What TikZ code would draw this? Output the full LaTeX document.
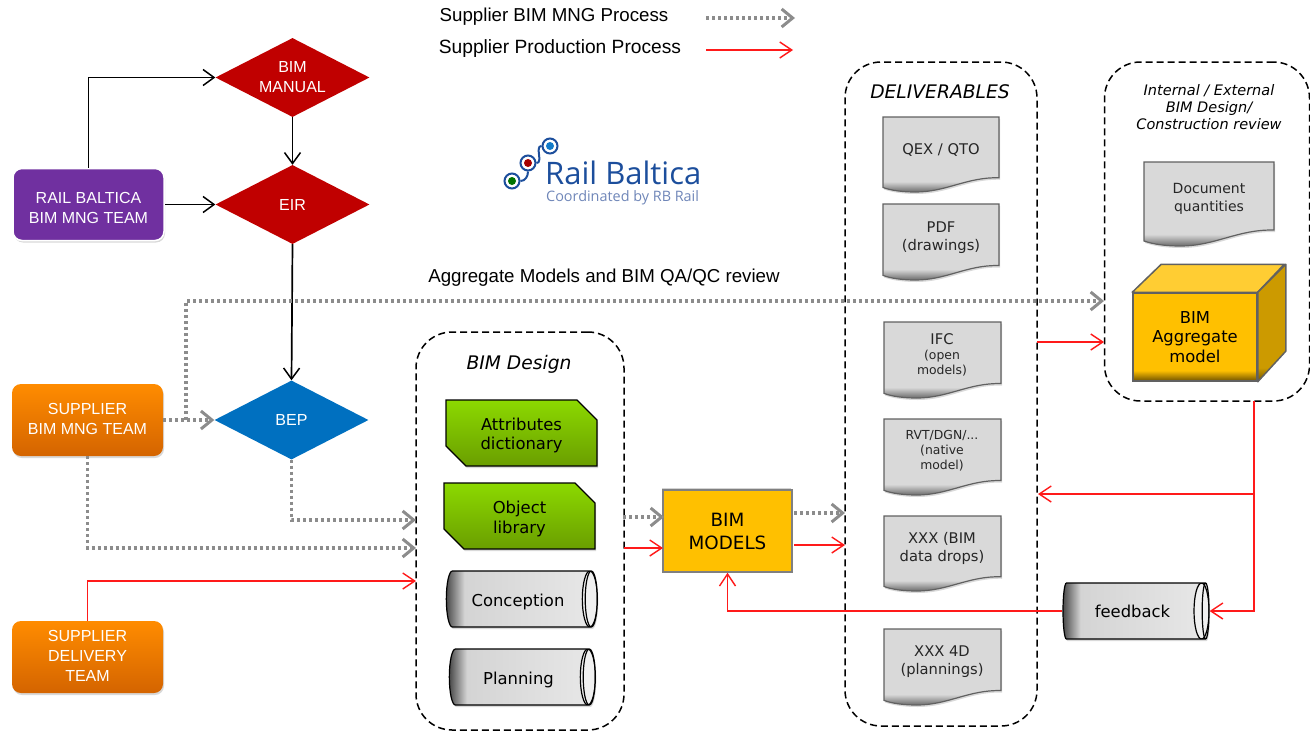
\documentclass[tikz,border=0pt]{standalone}
\usepackage{fontspec}
\setmainfont{Liberation Sans}
\newfontfamily\bodyfont{DejaVu Sans}
\newfontfamily\logofont{Open Sans}
\usetikzlibrary{arrows.meta}
\usetikzlibrary{shapes.geometric, shapes.misc}
\usetikzlibrary{shadows}

\definecolor{rbpurple}{HTML}{7030A0}
\definecolor{rbred}{HTML}{C00000}
\definecolor{rbblue}{HTML}{0070C0}
\definecolor{orangetop}{HTML}{FF8C00}
\definecolor{orangebot}{HTML}{D46400}
\definecolor{greentop}{HTML}{8CD900}
\definecolor{greenbot}{HTML}{6A9E00}
\definecolor{boxyellow}{HTML}{FFC000}
\definecolor{boxtop}{HTML}{FFCD33}
\definecolor{boxside}{HTML}{CC9A00}
\definecolor{boxdark}{HTML}{6E5200}
\definecolor{docgray}{HTML}{D9D9D9}
\definecolor{docdark}{HTML}{6A6A6A}
\definecolor{cyldark}{HTML}{4A4A4A}
\definecolor{cylmid}{HTML}{D4D4D4}
\definecolor{cyllight}{HTML}{E8E8E8}
\definecolor{logonavy}{HTML}{1C4E9C}
\definecolor{logosoft}{HTML}{6F86B8}
\definecolor{dotgray}{HTML}{8C8C8C}
\definecolor{linered}{HTML}{FF1A1A}

\pgfdeclareverticalshading{docfade}{100bp}{color(0bp)=(docdark); color(25bp)=(docdark); color(32bp)=(docgray); color(100bp)=(docgray)}
\pgfdeclareverticalshading{frontfade}{100bp}{color(0bp)=(boxdark); color(25bp)=(boxdark); color(31bp)=(boxyellow); color(100bp)=(boxyellow)}
\pgfdeclareverticalshading{sidefade}{100bp}{color(0bp)=(boxdark); color(25bp)=(boxdark); color(31bp)=(boxside); color(100bp)=(boxside)}
\pgfdeclarehorizontalshading{cylfade}{100bp}{color(0bp)=(cyldark); color(25bp)=(cyldark); color(31bp)=(cylmid); color(75bp)=(cyllight); color(100bp)=(cyllight)}

\tikzset{
  softshadow/.style={drop shadow={opacity=0.3, shadow xshift=1pt, shadow yshift=-2pt}},
  whitelabel/.style={text=white, align=center, font=\fontsize{16}{20}\selectfont},
  teambox/.style={rounded corners=9pt, minimum width=151pt, minimum height=72pt, inner sep=0pt, softshadow, whitelabel},
  orangebox/.style={teambox, top color=orangetop, bottom color=orangebot},
  gate/.style={diamond, aspect=1.94, minimum width=154pt, minimum height=79pt, inner sep=0pt, whitelabel},
  groupbox/.style={draw, line width=1.5pt, dash pattern=on 7pt off 4pt, rounded corners=36pt, inner sep=0pt},
  grouptitle/.style={font=\bodyfont\itshape\fontsize{18.7}{22}\selectfont},
  greenbox/.style={chamfered rectangle, chamfered rectangle corners={north east, south west}, chamfered rectangle sep=10pt,
    draw=black, line width=1.4pt, top color=greentop, bottom color=greenbot, minimum width=151pt, minimum height=66pt,
    inner sep=0pt, softshadow, align=center, font=\bodyfont\fontsize{16.4}{19.5}\selectfont},
  cylbox/.style={cylinder, shape aspect=0.54, shape border rotate=0, minimum height=#1, minimum width=56pt, inner sep=0pt,
    draw=black, line width=1.2pt, shade, shading=cylfade, softshadow, font=\bodyfont\fontsize{16.4}{20}\selectfont,
    path picture={\draw [black, line width=1.2pt, fill=white!94!black] ([xshift=-7.5pt]path picture bounding box.east) ellipse (7.5pt and 28pt);}},
  docoutline/.style={insert path={(0,0) -- (1,0) -- (1,.81) .. controls (.72,.80) and (.55,1) .. (.28,1) .. controls (.17,1) and (.07,.98) .. (0,.94) -- cycle}},
  docbody/.style={draw=black!62, line width=1.2pt, shade, shading=docfade, softshadow},
  doclabel/.style={align=center, text=black!85, inner sep=0pt, font=\bodyfont\fontsize{14.7}{18}\selectfont},
  smalllabel/.style={doclabel, font=\bodyfont\fontsize{12.4}{15}\selectfont},
  captionlabel/.style={font=\fontsize{18.7}{22}\selectfont, inner sep=0pt},
  logodot/.style={circle, draw=logonavy, line width=2pt, fill=white, minimum size=15pt, inner sep=0pt,
    path picture={\fill [#1] (path picture bounding box.center) circle (4pt);}},
  blackflow/.style={line width=1.7pt, -{Straight Barb[length=11pt, width=16pt, line width=1.5pt]}},
  redflow/.style={linered, line width=1.5pt, -{Straight Barb[length=12pt, width=16pt, line width=1.4pt]}},
  dotflow/.style={dotgray, line width=3.2pt, dash pattern=on 3pt off 3pt, -{Straight Barb[length=11pt, width=18pt, line width=3pt]}},
}

\begin{document}
\begin{tikzpicture}[x=1pt, y=-1pt]
\useasboundingbox (0,0) rectangle (1310,734); % same size as the reference

% legend
\node (legendmng) at (554,17) [captionlabel] {Supplier BIM MNG Process};
\node (legendprod) at (560,49) [captionlabel, font=\fontsize{19.2}{22}\selectfont] {Supplier Production Process};
\coordinate (mngfrom) at (706,18);
\coordinate (mngto) at (795,18);
\coordinate (prodfrom) at (706,50);
\coordinate (prodto) at (793,50);
\draw [dotflow] (mngfrom) -- (mngto);
\draw [redflow] (prodfrom) -- (prodto);

% logo
\node (dotgreen) at (512,181) [logodot=green!45!black] {};
\node (dotred) at (528,163) [logodot=red!65!black] {};
\node (dotblue) at (550,146) [logodot=cyan!60!blue] {};
\draw [logonavy, line width=2pt] (dotgreen.east) to[out=0, in=-90] (dotred.south);
\draw [logonavy, line width=2pt] (dotred.east) to[out=0, in=180] (dotblue.west);
\node (logoname) at (545,173) [anchor=west, inner sep=0pt, text=logonavy, font=\logofont\fontsize{31}{33}\selectfont] {Rail Baltica};
\node (logosub) at (546,198) [anchor=west, inner sep=0pt, text=logosoft, font=\logofont\fontsize{14.4}{16}\selectfont] {Coordinated by RB Rail};

% teams and gates
\node (railteam) at (88.5,204.5) [teambox, fill=rbpurple, draw=white, line width=1.5pt] {\rule{0pt}{18pt}RAIL BALTICA\\BIM MNG TEAM};
\node (mngteam) at (87.5,420) [orangebox] {SUPPLIER\\BIM MNG TEAM\rule[-2pt]{0pt}{2pt}};
\node (delivteam) at (87.5,657) [orangebox] {SUPPLIER\\DELIVERY\\TEAM\rule[-2pt]{0pt}{2pt}};
\node (manual) at (292.5,77.5) [gate, fill=rbred] {BIM\\MANUAL};
\node (eir) at (292.5,204.5) [gate, fill=rbred] {EIR};
\node (bep) at (291.5,420) [gate, fill=rbblue] {BEP};

% dashed groups
\node (design) at (520,531) [groupbox, minimum width=208pt, minimum height=398pt] {};
\node (deliver) at (941,394) [groupbox, minimum width=192pt, minimum height=664pt] {};
\node (review) at (1207,231.5) [groupbox, minimum width=205pt, minimum height=339pt] {};
\node (designtitle) at (519,364) [grouptitle] {BIM Design};
\node (delivertitle) at (940,92) [grouptitle] {DELIVERABLES};
\node (reviewtitle) at (1209,107) [grouptitle, align=center, font=\bodyfont\itshape\fontsize{14.5}{17.2}\selectfont] {Internal / External\\BIM Design/\\Construction review};

% design content
\node (attributes) at (521.5,433) [greenbox] {\rule{0pt}{17pt}Attributes\\dictionary};
\node (objects) at (519.5,516) [greenbox] {\rule{0pt}{18pt}Object\\library};
\node (conception) at (518.5,599) [cylbox=151pt] {\rule{0pt}{19pt}\hspace{-1pt}Conception};
\node (planning) at (519,677) [cylbox=146pt] {\rule{0pt}{19pt}\hspace{-1pt}Planning};

% bim models
\node (models) at (727.5,531) [draw=black!50, line width=1.5pt, fill=boxyellow, minimum width=129pt, minimum height=82pt, inner sep=0pt,
  drop shadow={opacity=0.35, shadow xshift=-1pt, shadow yshift=2pt}, align=center, font=\bodyfont\fontsize{18.3}{23}\selectfont] {BIM\\MODELS};

% deliverables
\path [docbody, shift={(883,117)}, x=116pt, y=-75pt, docoutline];
\node (qex) at (941,150) [doclabel] {QEX / QTO};
\path [docbody, shift={(883,204)}, x=116pt, y=-76pt, docoutline];
\node (pdf) at (941,238) [doclabel] {PDF\\(drawings)};
\path [docbody, shift={(884,322)}, x=117pt, y=-76pt, docoutline];
\node (ifc) at (942,355) [smalllabel] {{\fontsize{14.7}{15}\selectfont IFC}\\(open\\models)};
\path [docbody, shift={(884,419)}, x=117pt, y=-76pt, docoutline];
\node (native) at (942,451) [smalllabel] {RVT/DGN/...\\(native\\model)};
\path [docbody, shift={(884,516)}, x=117pt, y=-75pt, docoutline];
\node (drops) at (942,548) [doclabel] {XXX (BIM\\data drops)};
\path [docbody, shift={(884,629)}, x=117pt, y=-76pt, docoutline];
\node (fourd) at (942,661.5) [doclabel] {XXX 4D\\(plannings)};

% review content
\path [docbody, shift={(1144,162)}, x=130pt, y=-84pt, docoutline];
\node (quantities) at (1209,199) [doclabel, font=\bodyfont\fontsize{14}{18}\selectfont] {Document\\quantities};
\node (aggregate) at (1195,337) [draw=black!62, line width=1.5pt, shade, shading=frontfade, minimum width=124pt, minimum height=88pt, inner sep=0pt,
  align=center, font=\bodyfont\fontsize{16.4}{19.5}\selectfont] {BIM\\Aggregate\\model};
\fill [boxtop, draw=black!62, line width=1.5pt, line join=round] (aggregate.north west) -- ++(29,-28) -- ++(123,0) -- (aggregate.north east) -- cycle;
\path [shade, shading=sidefade, draw=black!62, line width=1.5pt, line join=round] (aggregate.north east) -- ++(28,-28) -- ++(0,87) -- (aggregate.south east) -- cycle;

\node (feedback) at (1134,611) [cylbox=146pt] {\hspace{-3pt}feedback};
\node (aggcaption) at (604,278) [captionlabel] {Aggregate Models and BIM QA/QC review};

% black links
\draw [blackflow] (railteam.north) |- (manual.west);
\draw [blackflow] (railteam.east) -- (eir.west);
\draw [blackflow] (manual.south) -- (eir.north);
\draw [blackflow] (eir.south) -- (bep.north);

% process links
\coordinate (mngsplit) at (186,420);
\coordinate (reviewin) at (1104,301);
\coordinate (designtop) at (416,520);
\coordinate (designmid) at (416,548);
\coordinate (designlow) at (416,581);
\draw [dotflow] (mngteam.east) -- (bep.west);
\draw [dotflow] (mngsplit) |- (reviewin);
\draw [dotflow] (bep.south) |- (designtop);
\draw [dotflow] (mngteam.south) |- (designmid);
\draw [redflow] (delivteam.north) |- (designlow);

\coordinate (designdot) at (623,517);
\coordinate (modelsdot) at (664,517);
\coordinate (designred) at (624,548);
\coordinate (modelsred) at (663,548);
\coordinate (modelsdotout) at (794,513);
\coordinate (deliverdot) at (845,513);
\coordinate (modelsredout) at (794,545);
\coordinate (deliverred) at (845,545);
\draw [dotflow] (designdot) -- (modelsdot);
\draw [redflow] (designred) -- (modelsred);
\draw [dotflow] (modelsdotout) -- (deliverdot);
\draw [redflow] (modelsredout) -- (deliverred);

\coordinate (deliverout) at (1037,342);
\coordinate (reviewred) at (1104,342);
\coordinate (reviewout) at (1254,401);
\coordinate (feedsplit) at (1254,494);
\coordinate (deliverback) at (1038,494);
\draw [redflow] (deliverout) -- (reviewred);
\draw [redflow] (reviewout) |- (feedback.east);
\draw [redflow] (feedsplit) -- (deliverback);
\draw [redflow] (feedback.west) -| (models.south);
\end{tikzpicture}
\end{document}
